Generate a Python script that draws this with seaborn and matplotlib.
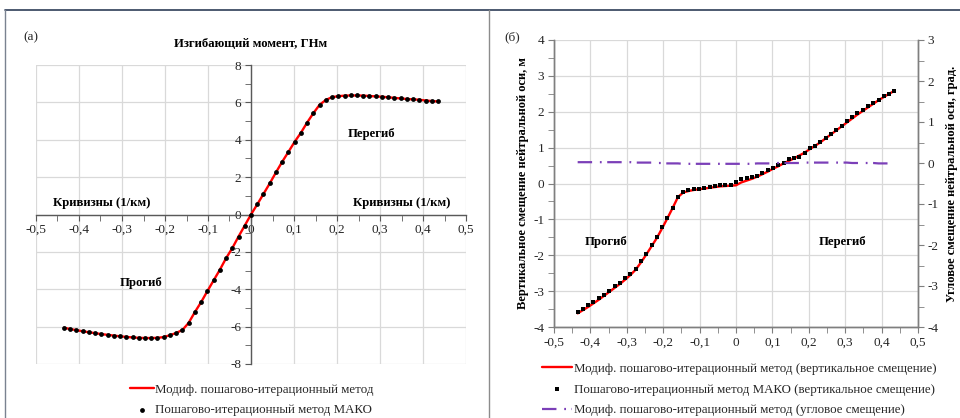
import numpy as np
import pandas as pd
import matplotlib
matplotlib.use("Agg")
import matplotlib.pyplot as plt
import seaborn as sns
from matplotlib.ticker import MultipleLocator, FuncFormatter
from matplotlib.lines import Line2D

# ---------------- data ----------------
curvature = [-0.435, -0.4205, -0.406, -0.3915, -0.377, -0.3625, -0.348, -0.3335, -0.319, -0.3045,
             -0.29, -0.2755, -0.261, -0.2465, -0.232, -0.2175, -0.203, -0.1885, -0.174, -0.1595,
             -0.145, -0.1305, -0.116, -0.1015, -0.087, -0.0725, -0.058, -0.0435, -0.029, -0.0145,
             0.0,
             0.0145, 0.029, 0.0435, 0.058, 0.0725, 0.087, 0.1015, 0.116, 0.1305, 0.145,
             0.1595, 0.174, 0.1885, 0.203, 0.2175, 0.232, 0.2465, 0.261, 0.2755, 0.29,
             0.3045, 0.319, 0.3335, 0.348, 0.3625, 0.377, 0.3915, 0.406, 0.4205, 0.435]

moment = [-6.06, -6.13, -6.19, -6.25, -6.30, -6.35, -6.40, -6.44, -6.48, -6.52,
          -6.55, -6.58, -6.60, -6.61, -6.61, -6.60, -6.56, -6.46, -6.34, -6.18,
          -5.80, -5.22, -4.69, -4.10, -3.53, -2.96, -2.34, -1.80, -1.18, -0.59,
          0.0,
          0.54, 1.10, 1.66, 2.25, 2.82, 3.35, 3.89, 4.37, 4.92, 5.42,
          5.87, 6.13, 6.28, 6.33, 6.36, 6.37, 6.37, 6.36, 6.34, 6.32,
          6.30, 6.27, 6.24, 6.21, 6.18, 6.16, 6.14, 6.10, 6.07, 6.05]

vert_mako = [-3.59, -3.49, -3.40, -3.31, -3.20, -3.10, -2.99, -2.87, -2.76, -2.64,
             -2.51, -2.38, -2.15, -1.96, -1.72, -1.50, -1.22, -0.96, -0.68, -0.37,
             -0.24, -0.19, -0.16, -0.14, -0.12, -0.10, -0.07, -0.05, -0.05, -0.04,
             0.04,
             0.12, 0.16, 0.17, 0.21, 0.29, 0.37, 0.43, 0.51, 0.58, 0.67,
             0.70, 0.74, 0.86, 0.98, 1.05, 1.15, 1.26, 1.39, 1.50, 1.61,
             1.74, 1.84, 1.96, 2.06, 2.15, 2.24, 2.34, 2.43, 2.50, 2.59]

vert_mod = [-3.62, -3.53, -3.44, -3.34, -3.24, -3.13, -3.02, -2.91, -2.80, -2.68,
            -2.55, -2.40, -2.20, -1.98, -1.75, -1.52, -1.25, -0.97, -0.68, -0.38,
            -0.25, -0.21, -0.18, -0.16, -0.14, -0.12, -0.10, -0.08, -0.07, -0.06,
            -0.05,
            0.03, 0.08, 0.13, 0.19, 0.26, 0.33, 0.41, 0.48, 0.56, 0.63,
            0.70, 0.78, 0.86, 0.96, 1.05, 1.15, 1.26, 1.37, 1.48, 1.59,
            1.70, 1.81, 1.92, 2.02, 2.12, 2.22, 2.32, 2.41, 2.50, 2.58]

angle_mod = [0.02, 0.02, 0.02, 0.02, 0.02, 0.02, 0.02, 0.02, 0.02, 0.02,
             0.02, 0.01, 0.01, 0.01, 0.01, 0.00, 0.00, -0.01, -0.01, -0.01,
             -0.02, -0.02, -0.02, -0.02, -0.02, -0.02, -0.02, -0.02, -0.02, -0.02,
             -0.02,
             -0.02, -0.02, -0.02, -0.01, -0.01, -0.01, -0.01, 0.00, 0.00, 0.00,
             0.00, 0.00, 0.01, 0.01, 0.01, 0.01, 0.01, 0.01, 0.01, 0.01,
             0.01, 0.00, 0.00, 0.00, 0.00, 0.00, -0.01, -0.01, -0.01, -0.01]

lbl_mod_a = "Модиф. пошагово-итерационный метод"
lbl_mako_a = "Пошагово-итерационный метод МАКО"
lbl_mod_b = "Модиф. пошагово-итерационный метод (вертикальное смещение)"
lbl_mako_b = "Пошагово-итерационный метод МАКО (вертикальное смещение)"
lbl_ang_b = "Модиф. пошагово-итерационный метод (угловое смещение)"

df = pd.DataFrame({"k": curvature, "M": moment, "v_mako": vert_mako,
                   "v_mod": vert_mod, "ang": angle_mod})

# ---------------- style ----------------
sns.set_style("white")
plt.rcParams["font.family"] = ["Liberation Serif", "DejaVu Serif"]
plt.rcParams["axes.unicode_minus"] = False

FS = 9.5
FS_LEG = 9.25
FS_BOLD = 9.2
TICK_C = "#262626"
SPINE_C = "#7f7f7f"
GRID_C = "#d9d9d9"
PURPLE = "#7b3fb8"


def comma_fmt(v, pos):
    v = round(v, 3) + 0.0
    return f"{v:g}".replace(".", ",")


fig = plt.figure(figsize=(9.6, 4.18), dpi=100)
W, H = 960.0, 418.0

# ================= panel (a) =================
axL = fig.add_axes([36 / W, 1 - 364 / H, 430 / W, 299 / H])
sns.lineplot(data=df, x="k", y="M", ax=axL, color="red", lw=1.7, sort=False,
             label=lbl_mod_a, zorder=3)
sns.scatterplot(data=df, x="k", y="M", ax=axL, color="black", s=12, marker="o",
                linewidth=0, label=lbl_mako_a, zorder=4)
axL.set_xlim(-0.5, 0.5)
axL.set_ylim(-8, 8)
axL.xaxis.set_major_locator(MultipleLocator(0.1))
axL.xaxis.set_minor_locator(MultipleLocator(0.05))
axL.yaxis.set_major_locator(MultipleLocator(2))
axL.yaxis.set_minor_locator(MultipleLocator(1))
axL.xaxis.set_major_formatter(FuncFormatter(comma_fmt))
axL.yaxis.set_major_formatter(FuncFormatter(comma_fmt))
axL.grid(True, which="major", color=GRID_C, lw=0.9)
axL.set_axisbelow(True)
for s in ["top", "right"]:
    axL.spines[s].set_visible(False)
axL.spines["left"].set_position(("data", 0))
axL.spines["bottom"].set_position(("data", 0))
for s in ["left", "bottom"]:
    axL.spines[s].set_color("#595959")
    axL.spines[s].set_linewidth(1.0)
axL.tick_params(which="both", direction="out", color="#595959", labelsize=FS,
                labelcolor=TICK_C, bottom=True, left=True)
axL.tick_params(which="major", length=4, pad=3)
axL.tick_params(which="minor", length=4)
axL.set_xlabel("")
axL.set_ylabel("")

bold = dict(fontsize=FS_BOLD, fontweight="bold", color="black")
axL.text(0.0, 9.1, "Изгибающий момент, ГНм", ha="center", va="center", clip_on=False, **bold)
axL.text(-0.347, 0.62, "Кривизны (1/км)", ha="center", va="center", **bold)
axL.text(0.351, 0.62, "Кривизны (1/км)", ha="center", va="center", **bold)
axL.text(0.281, 4.33, "Перегиб", ha="center", va="center", **bold)
axL.text(-0.256, -3.69, "Прогиб", ha="center", va="center", **bold)
fig.text(31 / W, 1 - 37 / H, "(а)", ha="center", va="center", fontsize=FS, color="#262626")

hL, lL = axL.get_legend_handles_labels()
axL.legend(hL, lL, loc="center left", bbox_to_anchor=(130 / W, 1 - 400 / H),
           bbox_transform=fig.transFigure, frameon=False, fontsize=FS_LEG,
           handlelength=1.85, handletextpad=0.12, borderpad=0, borderaxespad=0,
           labelspacing=0.7, markerscale=1.0)

# ================= panel (b) =================
axR = fig.add_axes([554 / W, 1 - 327 / H, 364 / W, 287 / H])
axR2 = axR.twinx()
sns.lineplot(data=df, x="k", y="v_mod", ax=axR, color="red", lw=1.7, sort=False,
             label=lbl_mod_b, zorder=3)
sns.scatterplot(data=df, x="k", y="v_mako", ax=axR, color="black", s=12, marker="s",
                linewidth=0, label=lbl_mako_b, zorder=4)
sns.lineplot(data=df, x="k", y="ang", ax=axR2, color=PURPLE, lw=1.6, sort=False,
             label=lbl_ang_b, zorder=3)
axR2.lines[0].set_linestyle((0, (6.5, 3.5, 0.8, 2.5)))

axR.set_xlim(-0.5, 0.5)
axR.set_ylim(-4, 4)
axR2.set_ylim(-4, 3)
axR.xaxis.set_major_locator(MultipleLocator(0.1))
axR.xaxis.set_minor_locator(MultipleLocator(0.05))
axR.yaxis.set_major_locator(MultipleLocator(1))
axR.yaxis.set_minor_locator(MultipleLocator(0.5))
axR2.yaxis.set_major_locator(MultipleLocator(1))
axR2.yaxis.set_minor_locator(MultipleLocator(0.5))
for a in (axR, axR2):
    a.xaxis.set_major_formatter(FuncFormatter(comma_fmt))
    a.yaxis.set_major_formatter(FuncFormatter(comma_fmt))
axR.grid(True, which="major", color=GRID_C, lw=0.9)
axR.set_axisbelow(True)
axR2.grid(False)
for a in (axR, axR2):
    a.spines["top"].set_visible(False)
    for s in ["left", "right", "bottom"]:
        a.spines[s].set_color(SPINE_C)
        a.spines[s].set_linewidth(1.0)
axR.tick_params(which="both", direction="out", color=SPINE_C, labelsize=FS,
                labelcolor=TICK_C, bottom=True, left=True)
axR.tick_params(which="major", length=4, pad=3)
axR.tick_params(which="minor", length=4)
axR2.tick_params(which="both", direction="out", color=SPINE_C, labelsize=FS,
                 labelcolor=TICK_C, right=True)
axR2.tick_params(which="major", length=4, pad=3)
axR2.tick_params(which="minor", length=4)
axR.set_xlabel("")
axR.set_ylabel("Вертикальное смещение нейтральной оси, м", va="center",
               fontsize=9.0, fontweight="bold", color="black")
axR.yaxis.set_label_coords((523 - 554) / 364, 0.5)
axR2.set_ylabel("Угловое смещение нейтральной оси, град.", va="center", rotation=90,
                fontsize=9.0, fontweight="bold", color="black")
axR2.yaxis.set_label_coords((952 - 554) / 364, 0.5)

axR.text(-0.358, -1.63, "Прогиб", ha="center", va="center", **bold)
axR.text(0.292, -1.63, "Перегиб", ha="center", va="center", **bold)
fig.text(512 / W, 1 - 37 / H, "(б)", ha="center", va="center", fontsize=FS, color="#262626")

h1, l1 = axR.get_legend_handles_labels()
h2, l2 = axR2.get_legend_handles_labels()
if axR2.get_legend() is not None:
    axR2.get_legend().remove()
axR.legend(h1 + h2, l1 + l2, loc="center left", bbox_to_anchor=(542 / W, 1 - 389.5 / H),
           bbox_transform=fig.transFigure, frameon=False, fontsize=FS_LEG,
           handlelength=2.3, handletextpad=0.2, borderpad=0, borderaxespad=0,
           labelspacing=0.7)

# ---------------- panel frames ----------------
fig.add_artist(Line2D([5 / W, 1.0], [1 - 10 / H, 1 - 10 / H], transform=fig.transFigure,
                      color="#2e3d57", lw=1.2))
fig.add_artist(Line2D([5 / W, 5 / W], [0, 1 - 10 / H], transform=fig.transFigure,
                      color="#7a8290", lw=1.0))
fig.add_artist(Line2D([489 / W, 489 / W], [0, 1 - 10 / H], transform=fig.transFigure,
                      color="#8c8c8c", lw=1.0))

fig.savefig("out.png", dpi=100)
